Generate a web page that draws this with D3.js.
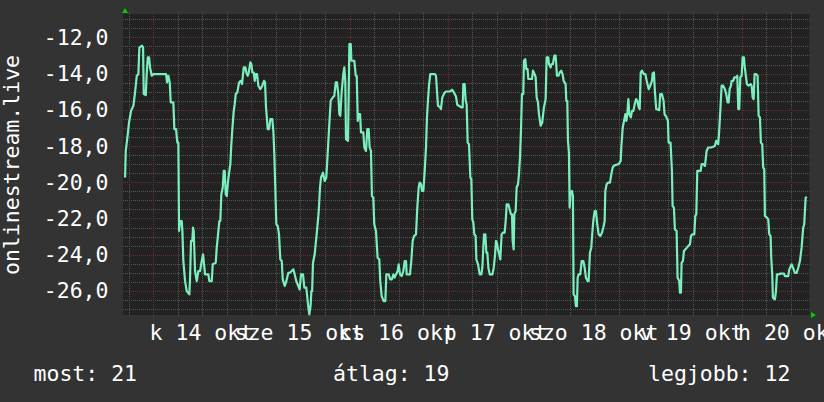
<!DOCTYPE html>
<html><head><meta charset="utf-8">
<script src="https://cdn.jsdelivr.net/npm/d3@7"></script>
<style>
html,body{margin:0;padding:0;background:#323232;}
svg{display:block;}
text{font-family:"DejaVu Sans Mono",monospace;fill:#ffffff;}
</style></head><body>
<svg id="c" width="824" height="402"></svg>
<script>
// hours since 2025-10-14 00:00 (local)
const hours = [
-6.92,-6.76,-6.36,-5.95,-5.46,-4.89,-4.48,-4.06,-3.67,-3.42,-2.76,-2.52,-2.35,-1.86,-1.61,-1.37,-1.05,-0.81,-0.40,0.00,
3.11,3.35,3.67,4.01,4.25,4.89,5.14,5.55,5.87,6.12,6.29,6.53,6.94,7.10,7.34,7.76,8.17,8.81,8.98,9.22,
9.54,9.71,9.87,10.20,10.62,11.01,11.43,11.84,12.16,12.40,12.65,13.46,13.70,14.29,14.53,15.27,15.51,15.83,16.15,16.39,
16.64,16.98,17.22,17.47,17.71,17.96,18.28,18.60,18.84,19.08,19.33,19.67,
19.91,20.16,20.55,20.97,21.38,21.70,22.12,22.51,22.75,23.10,23.34,23.73,23.98,24.22,24.56,24.81,25.05,25.37,25.69,26.18,
26.67,27.08,27.33,27.57,27.99,28.31,28.63,29.11,29.36,29.60,30.09,30.43,30.75,31.07,31.42,31.66,32.15,32.54,33.03,33.37,
33.86,34.25,34.49,34.98,35.47,35.81,36.13,36.62,36.94,37.43,37.85,38.17,38.51,38.66,38.85,39.07,39.48,39.88,40.12,40.47,
40.78,41.03,41.52,41.93,42.32,42.74,43.06,43.40,43.89,44.28,44.63,44.94,45.26,45.51,45.75,46.10,46.48,46.73,46.97,47.14,47.63,
47.97,48.31,48.46,49.18,49.53,49.77,50.02,50.26,50.59,50.81,51.38,51.62,52.04,52.36,52.69,52.93,53.25,53.49,53.82,54.06,
54.48,54.88,55.29,55.53,55.87,56.36,56.77,57.01,57.58,57.98,58.39,58.72,59.04,59.38,59.79,60.03,60.36,60.77,61.18,61.50,
61.83,61.99,62.80,63.12,63.46,63.78,64.27,64.59,64.93,65.17,65.50,65.74,66.07,66.40,66.72,66.96,67.20,67.45,67.77,68.92,
69.16,69.41,69.65,70.06,70.38,70.71,71.20,71.61,72.59,73.08,73.41,73.74,74.06,74.37,
75.45,75.70,75.85,76.18,76.43,76.67,76.92,77.24,77.57,77.81,78.05,78.30,78.54,78.87,79.04,79.45,79.86,80.27,80.51,80.75,
80.92,81.24,81.49,81.73,81.98,82.32,82.97,83.30,83.63,83.84,84.08,84.33,84.57,84.90,85.23,85.55,85.97,86.22,86.46,86.87,
87.19,87.51,87.76,87.93,88.17,88.33,88.66,88.90,89.23,89.47,89.72,89.96,90.20,90.53,90.69,91.01,91.26,91.58,91.75,92.65,
92.90,93.31,93.56,93.80,94.12,94.36,94.78,95.17,95.58,96.00,96.24,96.64,96.81,97.22,97.47,97.79,98.11,98.44,98.77,99.17,
99.43,99.82,100.15,100.40,100.89,101.05,101.30,101.46,101.70,101.87,102.11,102.43,102.68,
102.84,103.16,103.41,103.65,103.83,104.07,104.47,104.81,105.22,105.54,105.86,106.27,106.52,106.84,107.17,107.33,107.66,107.99,108.31,108.63,
108.97,109.38,109.79,110.11,110.44,110.60,110.93,111.25,111.74,112.07,112.41,112.66,113.07,113.88,114.37,114.51,114.86,115.18,115.51,115.75,
115.99,116.24,116.48,116.83,117.15,117.48,117.80,118.13,118.45,118.78,119.02,119.27,119.59,120.00,120.41,120.73,121.22,121.61,122.02,122.18,
122.50,122.75,123.06,123.80,124.04,124.45,124.86,125.10,125.59,125.92,126.08,126.57,126.90,127.07,127.39,127.63,128.05,128.29,128.70,128.86,
129.11,129.27,129.60,129.84,130.17,130.57,
130.90,131.31,131.56,131.88,132.38,132.62,132.87,133.11,133.94,134.18,134.59,134.99,135.39,135.78,136.43,137.00,137.41,137.74,137.98,138.23,
138.47,138.72,139.06,139.45,139.86,140.19,140.53,140.78,141.02,141.35,141.51,141.92,142.16,142.41,142.65,142.90,143.14,143.38,143.63,143.96,
144.20,144.53,144.69,144.94,145.26,145.67,146.16,146.41,146.65,146.90,147.14,147.53,147.87,148.12,148.44,148.68,149.00,149.24,149.49,149.66,
150.15,150.48,150.72,151.05,151.21,151.45,151.62,152.11,152.36,152.60,153.02,153.34,153.75,154.32,154.56,155.13,155.37,155.62,156.20,156.52,
157.01,157.42,157.82,158.23,158.64,159.03,159.28,159.63,159.94
];
const values = [
-19.74,-18.27,-17.53,-16.70,-16.06,-15.78,-15.04,-14.12,-14.03,-12.55,-12.46,-12.55,-15.13,-15.19,-13.94,-13.11,-13.11,-13.66,-14.12,-14.03,
-14.03,-14.49,-14.12,-14.49,-15.59,-15.59,-17.07,-17.07,-17.81,-17.81,-22.69,-22.14,-22.14,-22.69,-24.35,-25.46,-26.01,-26.19,-25.27,-23.24,
-23.24,-22.51,-22.69,-24.90,-25.46,-24.90,-24.90,-24.35,-23.98,-24.53,-25.09,-25.09,-25.46,-25.46,-24.53,-24.44,-23.61,-22.88,-22.14,-22.14,
-20.66,-20.29,-19.37,-19.37,-20.66,-20.76,-19.93,-19.37,-19.00,-17.90,-17.07,-16.06,
-15.69,-15.13,-15.04,-14.49,-14.40,-14.58,-13.66,-13.66,-13.94,-14.12,-13.94,-13.38,-13.47,-13.94,-13.94,-14.40,-14.03,-14.03,-14.67,-14.86,
-14.67,-14.40,-14.49,-15.87,-17.07,-17.07,-16.52,-16.52,-17.16,-18.45,-22.32,-22.41,-22.88,-24.26,-24.35,-25.36,-25.73,-25.46,-25.00,-25.00,
-24.90,-24.81,-25.00,-25.46,-25.73,-25.92,-25.09,-25.09,-25.82,-25.82,-26.75,-27.30,-26.75,-26.01,-26.01,-24.44,-23.98,-23.06,-22.51,-21.59,
-20.29,-19.74,-19.47,-19.93,-19.74,-18.08,-16.79,-15.50,-15.32,-15.23,-14.49,-14.49,-15.13,-16.24,-16.33,-14.95,-14.03,-13.66,-14.40,-17.62,-17.71,
-12.37,-12.37,-13.29,-13.29,-14.12,-14.12,-16.61,-16.24,-16.24,-17.25,-17.25,-18.08,-18.27,-17.07,-17.07,-18.08,-18.27,-20.76,-20.85,-22.32,
-22.69,-24.17,-24.26,-25.46,-26.29,-26.56,-26.56,-25.09,-25.09,-25.36,-25.36,-25.09,-25.27,-25.09,-24.90,-24.53,-25.09,-25.18,-24.90,-24.35,
-24.35,-25.09,-25.09,-24.35,-23.24,-22.97,-22.88,-21.40,-20.29,-20.02,-20.11,-20.48,-20.48,-19.37,-18.08,-16.42,-15.50,-14.67,-14.03,-14.03,
-14.12,-14.95,-15.78,-15.83,-15.96,-15.32,-15.08,-14.99,-14.99,-14.89,-14.99,-15.13,-15.27,-15.72,
-15.87,-15.87,-14.58,-14.58,-15.50,-15.69,-17.81,-17.90,-19.74,-19.83,-22.05,-22.23,-22.88,-22.97,-24.26,-24.53,-25.09,-25.09,-24.72,-23.61,
-22.88,-22.88,-23.89,-23.89,-24.72,-25.09,-25.09,-24.72,-23.98,-23.24,-23.33,-23.71,-23.89,-24.26,-22.88,-22.78,-22.78,-22.14,-21.22,-21.22,
-21.49,-21.77,-21.77,-23.24,-23.71,-21.77,-21.59,-20.29,-20.11,-19.56,-18.64,-17.16,-15.13,-15.13,-13.29,-13.20,-13.75,-13.75,-14.30,-14.30,
-13.84,-14.03,-14.21,-15.32,-15.59,-16.24,-16.88,-16.70,-15.87,-15.41,-13.11,-13.11,-13.47,-13.66,-13.47,-13.47,-13.01,-13.01,-14.12,-14.12,
-13.94,-13.84,-14.03,-14.40,-14.58,-15.50,-15.50,-17.71,-18.36,-21.40,-20.57,-20.48,-20.76,
-26.19,-26.29,-26.84,-26.84,-25.27,-25.09,-25.09,-24.35,-24.35,-24.72,-25.27,-25.46,-25.46,-23.89,-23.61,-23.06,-22.14,-21.59,-21.59,-22.32,
-22.88,-22.97,-22.78,-22.51,-22.14,-20.48,-20.11,-20.02,-20.02,-19.56,-19.19,-19.10,-19.05,-19.00,-18.82,-18.08,-16.98,-16.61,-16.24,-16.61,
-16.24,-15.41,-16.24,-16.42,-16.06,-16.06,-15.69,-15.41,-15.50,-15.87,-15.96,-13.94,-13.84,-14.03,-14.03,-14.40,-14.86,-14.67,-14.40,-13.99,
-13.94,-15.04,-15.96,-16.02,-15.13,-15.13,-15.50,-16.24,-16.42,-16.61,-17.81,-17.81,-19.37,-21.31,-21.40,-22.60,-22.69,-25.27,-25.46,-26.10,
-26.10,-24.44,-24.35,-23.80,-23.71,-23.61,
-23.52,-23.43,-22.97,-22.88,-22.88,-21.86,-21.77,-19.37,-19.37,-19.00,-19.00,-19.10,-18.27,-18.08,-18.08,-18.04,-17.99,-17.71,-17.81,-17.90,
-17.16,-16.15,-14.67,-14.67,-14.86,-15.13,-15.59,-15.59,-14.86,-14.67,-14.40,-14.40,-14.21,-14.21,-14.21,-14.12,-15.96,-15.96,-14.21,-14.12,
-13.11,-13.11,-13.57,-14.03,-14.58,-14.67,-14.58,-14.67,-15.32,-15.41,-14.03,-14.03,-14.12,-16.33,-16.42,-17.81,-17.90,-19.19,-19.28,-21.86,
-21.95,-22.05,-22.88,-22.97,-24.17,-25.09,-26.38,-26.47,-26.01,-25.09,-25.09,-25.05,-25.05,-25.05,-25.18,-25.18,-25.18,-24.81,-24.53,-24.72,
-25.00,-25.00,-24.72,-24.35,-23.61,-22.51,-22.32,-20.85,-20.81
];
const dayLabels = ["k 14 okt","sze 15 okt","cs 16 okt","p 17 okt","szo 18 okt","v 19 okt","h 20 okt"];
const yTicks = [-12,-14,-16,-18,-20,-22,-24,-26];
const yTitle = "onlinestream.live";
const legendTexts = ["most: 21","átlag: 19","legjobb: 12"];

const base = new Date(2025,9,14,0,0,0);
const toDate = h => new Date(base.getTime() + h*3600000);
const data = hours.map((h,i)=>({t:toDate(h), v:values[i]}));

const L=123, R=809.5, T=14, B=315;
const FS = "21.5px";
const x = d3.scaleTime().domain([toDate(-7.43), toDate(160.57)]).range([L,R]);
const y = d3.scaleLinear().domain([-27.33,-10.71]).range([B,T]);

const svg = d3.select("#c");
svg.append("rect").attr("width",824).attr("height",402).attr("fill","#333333");
svg.append("rect").attr("x",L).attr("y",T).attr("width",R-L).attr("height",B-T).attr("fill","#222222");

const g = svg.append("g").attr("shape-rendering","crispEdges");
const GRAY = "#535353", RED = "#633232";
// minor horizontal grid every 0.5
const minorY = d3.range(-27, -10.9, 0.5).filter(v=>Math.abs(v%2)>1e-6);
g.selectAll(".hmin").data(minorY).enter().append("line")
 .attr("x1",L).attr("x2",R).attr("y1",d=>Math.round(y(d))+0.5).attr("y2",d=>Math.round(y(d))+0.5)
 .attr("stroke",GRAY).attr("stroke-dasharray","1,1");
// minor vertical grid every 6h
const minorX = d3.timeHour.every(6).range(x.domain()[0], x.domain()[1]).filter(d=>d.getHours()!==0);
g.selectAll(".vmin").data(minorX).enter().append("line")
 .attr("x1",d=>Math.round(x(d))+0.5).attr("x2",d=>Math.round(x(d))+0.5).attr("y1",T-2).attr("y2",B)
 .attr("stroke",GRAY).attr("stroke-dasharray","1,1");
// major horizontal grid
g.selectAll(".hmaj").data(yTicks).enter().append("line")
 .attr("x1",L).attr("x2",R+1).attr("y1",d=>Math.round(y(d))+0.5).attr("y2",d=>Math.round(y(d))+0.5)
 .attr("stroke",RED).attr("stroke-dasharray","1,1");
// major vertical grid (midnight)
const majorX = d3.timeDay.range(x.domain()[0], x.domain()[1]);
g.selectAll(".vmaj").data(majorX).enter().append("line")
 .attr("x1",d=>Math.round(x(d))+0.5).attr("x2",d=>Math.round(x(d))+0.5).attr("y1",T-2).attr("y2",B+3)
 .attr("stroke",RED).attr("stroke-dasharray","1,1");

// data line
svg.append("path").datum(data)
 .attr("d", d3.line().x(d=>x(d.t)).y(d=>y(d.v)))
 .attr("fill","none").attr("stroke","#7aeebb").attr("stroke-width",2.2).attr("stroke-linejoin","round");

// y labels
const fmt = v => d3.format(".1f")(v).replace(".",",").replace("−","-");
svg.selectAll(".yl").data(yTicks).enter().append("text")
 .attr("x",108.5).attr("y",d=>y(d)+7.5).attr("text-anchor","end")
 .style("font-size",FS).text(fmt);

// x labels centered at noon
const noons = majorX.map(d=>d3.timeHour.offset(d,12));
svg.selectAll(".xl").data(noons).enter().append("text")
 .attr("x",d=>x(d)-1).attr("y",339.5).attr("text-anchor","middle")
 .style("font-size",FS).text((d,i)=>dayLabels[i]);

// y title
svg.append("text").attr("transform","translate(18.5,165) rotate(-90)")
 .attr("text-anchor","middle").style("font-size",FS).text(yTitle);

// legend
const legX = [33.5, 333, 648];
svg.selectAll(".lg").data(legendTexts).enter().append("text")
 .attr("x",(d,i)=>legX[i]).attr("y",381).style("font-size",FS).text(d=>d);

// arrows
svg.append("path").attr("d","M122,13L128,13L125,8Z").attr("fill","#00cc00");
svg.append("path").attr("d","M811,312L811,318L816,315Z").attr("fill","#00cc00");
</script>
</body></html>
